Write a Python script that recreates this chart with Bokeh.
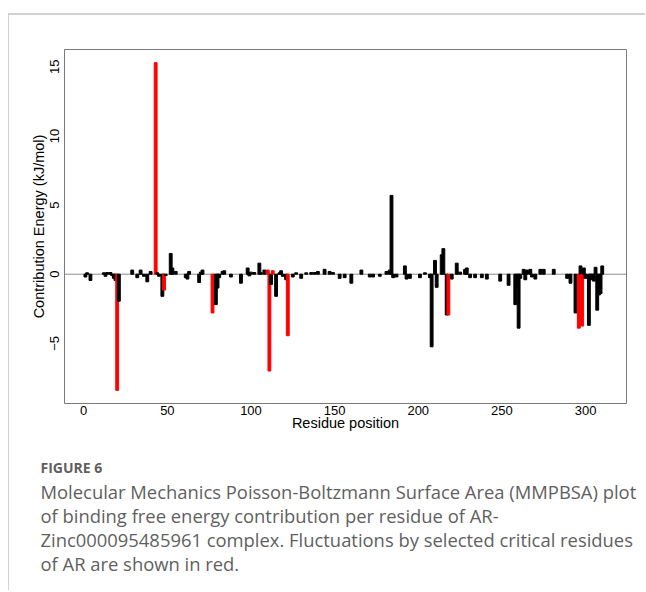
from bokeh.plotting import figure
from bokeh.models import Range1d, Span, Title, ColumnDataSource, FixedTicker
from bokeh.embed import file_html
from bokeh.resources import INLINE

# ---- data: residue position and per-residue contribution energy (kJ/mol) ----
residue = [1, 2, 4, 12, 13, 14, 16, 17, 18, 19, 20, 21, 29, 32, 34, 36, 38, 40,
           43, 44, 45, 47, 48, 49, 52, 53, 55, 61, 62, 63, 69, 70, 71, 77, 79,
           80, 81, 83, 84, 88, 94, 98, 99, 100, 102, 105, 106, 108, 110, 111,
           112, 113, 115, 117, 118, 119, 121, 122, 125, 127, 130, 133, 136,
           138, 140, 144, 147, 149, 153, 156, 160, 166, 171, 173, 177, 181,
           183, 184, 185, 187, 192, 193, 195, 201, 204, 207, 208, 210, 211,
           214, 215, 217, 218, 220, 223, 225, 228, 229, 231, 234, 238, 241,
           249, 254, 258, 259, 260, 261, 263, 264, 265, 267, 268, 270, 273,
           275, 281, 289, 291, 294, 296, 297, 298, 299, 300, 302, 303, 304,
           305, 306, 307, 308, 309, 310]
energy = [-0.2, 0.1, -0.45, 0.1, -0.15, 0.12, 0.12, -0.1, -0.3, -0.45, -8.4,
          -1.95, 0.3, -0.25, 0.3, -0.15, -0.55, 0.2, 15.3, 0.1, -0.15, -1.6,
          -1.15, -0.1, 1.5, 0.45, 0.2, -0.25, -0.35, 0.2, -0.6, 0.15, 0.3,
          -2.8, -2.2, -1.0, -0.25, 0.2, 0.25, -0.2, -0.65, 0.45, -0.12, 0.15,
          0.12, 0.8, 0.1, 0.3, 0.3, -7.0, -0.75, 0.25, -1.6, 0.1, 0.25, -0.15,
          -0.4, -4.45, -0.2, 0.1, -0.3, 0.1, 0.12, 0.12, 0.2, 0.35, 0.2, 0.12,
          -0.3, -0.25, -0.65, 0.3, -0.2, -0.2, -0.15, 0.2, 0.3, 5.7, -0.25,
          -0.2, 0.6, -0.35, -0.3, -0.25, 0.1, -0.25, -5.25, 1.0, -0.95, 1.4,
          1.85, -2.95, -2.95, -0.35, 0.8, 0.15, 0.35, 0.45, -0.25, -0.25,
          -0.25, -0.35, -0.5, -0.8, -2.2, -1.0, -3.9, -0.3, 0.35, -0.4, 0.3,
          0.35, -0.2, -0.35, 0.35, 0.35, 0.35, -0.3, -0.65, -2.8, -3.9, 0.6,
          -3.75, 0.45, -0.3, -3.7, -0.4, -0.35, -0.5, 0.5, -2.6, -1.5, -1.4,
          0.6]
critical_residues = [20, 43, 48, 77, 110, 111, 113, 122, 218, 296, 298]

x_ticks = [0, 50, 100, 150, 200, 250, 300]
y_ticks = [-5, 0, 5, 10, 15]

caption_head = "FIGURE 6"
caption_lines = [
    "Molecular Mechanics Poisson-Boltzmann Surface Area (MMPBSA) plot",
    "of binding free energy contribution per residue of AR-",
    "Zinc000095485961 complex. Fluctuations by selected critical residues",
    "of AR are shown in red.",
]

colors = ["#ff0000" if r in critical_residues else "#000000" for r in residue]
src = ColumnDataSource(dict(x=residue, top=energy, color=colors))

XR = (-11.5, 324.5)
YR = (-9.35, 16.25)

p = figure(width=637, height=577, x_range=Range1d(*XR), y_range=Range1d(*YR),
           output_backend="svg", toolbar_location=None,
           min_border_left=55, min_border_right=20, min_border_top=34,
           min_border_bottom=189)
p.margin = (13, 0, 0, 8)
p.styles = {"border-top": "2px solid #d2d2d2", "border-left": "1px solid #d2d2d2"}
p.background_fill_color = "white"
p.border_fill_color = "white"
p.outline_line_color = "#7a7a7a"
p.outline_line_width = 1
p.xgrid.visible = False
p.ygrid.visible = False

zero = Span(location=0, dimension="width", line_color="#8c8c8c", line_width=1, level="underlay")
p.add_layout(zero)

p.vbar(x="x", top="top", bottom=0, width=1.7, color="color", source=src)

AX_FONT = "Liberation Sans"
for ax in (p.xaxis[0], p.yaxis[0]):
    ax.axis_line_color = None
    ax.major_tick_line_color = None
    ax.minor_tick_line_color = None
    ax.major_tick_out = 0
    ax.major_tick_in = 0
    ax.major_label_text_font = AX_FONT
    ax.major_label_text_font_size = "13px"
    ax.major_label_text_color = "#000000"
    ax.axis_label_text_font = AX_FONT
    ax.axis_label_text_font_size = "14.5px"
    ax.axis_label_text_font_style = "normal"
    ax.axis_label_text_color = "#000000"

p.xaxis.ticker = FixedTicker(ticks=x_ticks)
p.yaxis.ticker = FixedTicker(ticks=y_ticks)
p.xaxis.axis_label = "Residue position"
p.yaxis.axis_label = "Contribution Energy (kJ/mol)"
p.xaxis.major_label_standoff = 2
p.xaxis.axis_label_standoff = -3
p.yaxis.major_label_orientation = "parallel"
p.yaxis.major_label_standoff = 5
p.yaxis.axis_label_standoff = 1

# caption: stacked title panels below the x axis
CAP_OFFSET = -24  # text starts left of the frame
p.add_layout(Title(text=" ", align="left", text_font_size="1px", standoff=17), "below")
p.add_layout(Title(text=caption_head, align="left", offset=CAP_OFFSET,
                   text_font="Open Sans", text_font_size="14px",
                   text_font_style="bold", text_color="#5f5f5f",
                   standoff=4, text_line_height=1.0), "below")
for i, line in enumerate(caption_lines):
    p.add_layout(Title(text=line, align="left", offset=CAP_OFFSET,
                       text_font="Open Sans", text_font_size="18.4px",
                       text_font_style="normal", text_color="#5f5f5f",
                       standoff=-3, text_line_height=1.2), "below")

open("out.html", "w").write(file_html(p, INLINE))
